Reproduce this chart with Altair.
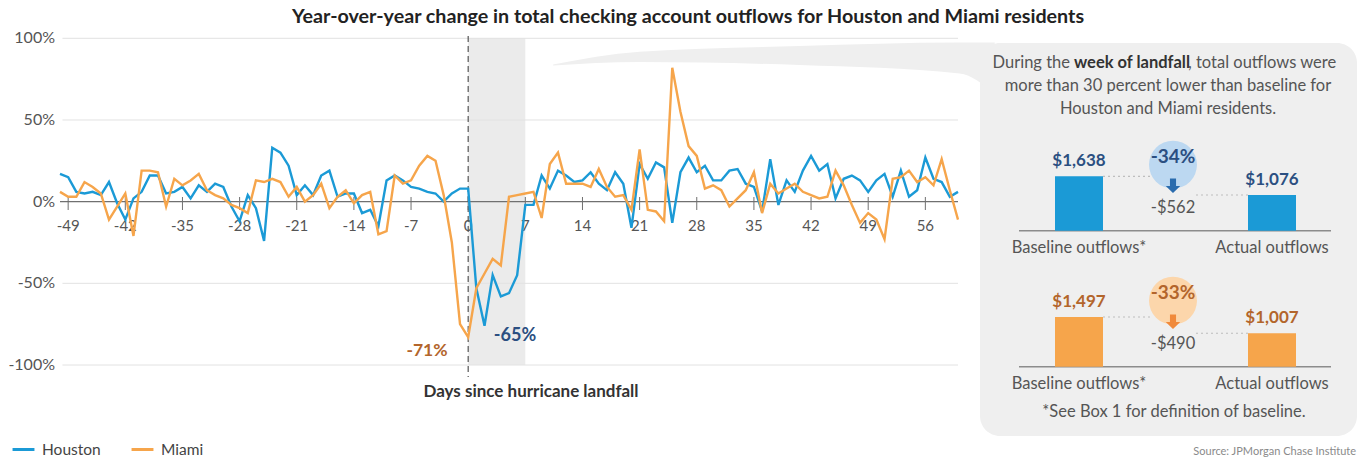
import altair as alt
import pandas as pd

FONT = "Lato"

TITLE = "Year-over-year change in total checking account outflows for Houston and Miami residents"
X_TITLE = "Days since hurricane landfall"
SOURCE = "Source: JPMorgan Chase Institute"

CITIES = ["Houston", "Miami"]
DAYS = list(range(-50, 61))

# Year-over-year change in daily outflows (%), days -50 .. 60
HOUSTON = [
    17, 15, 6, 5, 6, 4, 12, -1, -11, 2,
    6, 16, 16, 5, 6, 9, 2, 10, 6, 11,
    9, -3, -12, 4, -4, -24, 33, 30, 22, 4,
    10, 4, 16, 19, 3, 5, 5, -7, -5, -15,
    13, 16, 13, 9, 8, 6, 5, 0, 5, 8,
    8, -53, -76, -45, -58, -56, -45, -2, -2, 16,
    8, 19, 16, 12, 13, 18, 11, 7, 18, 11,
    -16, 23, 14, 24, 21, -13, 18, 27, 18, 22,
    13, 13, 19, 20, 11, 9, -6, 26, -2, 13,
    6, 19, 28, 19, 23, 2, 14, 16, 13, 6,
    13, 17, 3, 19, 3, 7, 27, 14, 12, 3,
    6,
]
MIAMI = [
    6, 3, 3, 12, 9, 5, -11, -3, 5, -21,
    19, 19, 18, -3, 14, 10, 13, 17, 7, 4,
    2, -2, -4, -7, 13, 12, 14, 12, 3, 9,
    0, 4, 11, -4, 3, 7, -1, 4, 6, -20,
    -18, 16, 11, 13, 22, 28, 25, 4, -25, -75,
    -83, -53, -44, -35, -39, 3, 4, 5, 6, -10,
    23, 30, 11, 11, 11, 9, 20, 9, 3, 4,
    -5, 32, -5, -6, -12, 82, 55, 34, 28, 8,
    10, 7, -3, 2, 7, 18, -7, 11, 5, 8,
    11, 6, 4, 2, 3, 19, 10, -2, -13, -7,
    -11, -23, 14, 15, 19, 12, 15, 10, 26, 7,
    -11,
]

X_TICKS = list(range(-49, 57, 7))
Y_TICKS = [-100, -50, 0, 50, 100]
LANDFALL_WEEK = [0, 7]
DIP_LABELS = {"Houston": "-65%", "Miami": "-71%"}

KINDS = ["Baseline outflows*", "Actual outflows"]
HOUSTON_OUTFLOWS = [1638, 1076]
MIAMI_OUTFLOWS = [1497, 1007]

BLUE = "#1b9ad6"
ORANGE = "#f6a54b"
DARK_BLUE = "#2b4f81"
BROWN = "#b3652b"
GRAY_TEXT = "#555555"
PANEL = "#efefef"

W, H = 1364, 466
PANEL_FONT_SIZE = 16.5

FX = alt.Scale(domain=[-50, 60], range=[60, 958])
FY = alt.Scale(domain=[-100, 100], range=[365, 38.3])
one = pd.DataFrame({"k": [0]})


def txt(text, x, y, size=15, color=GRAY_TEXT, weight="normal", align="center"):
    return alt.Chart(one).mark_text(
        text=text, font=FONT, fontSize=size, color=color, fontWeight=weight,
        align=align, baseline="middle",
    ).encode(x=alt.value(x), y=alt.value(y))


# ---------------- line chart ----------------
series = pd.DataFrame({
    "day": DAYS * 2,
    "city": ["Houston"] * len(DAYS) + ["Miami"] * len(DAYS),
    "change": HOUSTON + MIAMI,
})

panel_bg = alt.Chart(one).mark_rect(color=PANEL, cornerRadius=20).encode(
    x=alt.value(980), x2=alt.value(1357), y=alt.value(43), y2=alt.value(436)
)

# callout tail linking the landfall week to the side panel
tail = pd.DataFrame({
    "day": [10.4, 21.0, 40.6, 60.2, 64.5],
    "top": [84.0, 91.7, 95.3, 97.4, 97.4],
    "bottom": [83.4, 85.5, 83.6, 78.5, 66.0],
})
tail_area = alt.Chart(tail).mark_area(color=PANEL, clip=False, interpolate="monotone").encode(
    x=alt.X("day:Q", scale=FX, axis=None),
    y=alt.Y("top:Q", scale=FY, axis=None),
    y2="bottom:Q",
)

shade = alt.Chart(pd.DataFrame({"start": [LANDFALL_WEEK[0]], "end": [LANDFALL_WEEK[1]]})).mark_rect(
    color="#ebebeb"
).encode(
    x=alt.X("start:Q", scale=FX, axis=None), x2="end:Q",
    y=alt.Y(datum=-100, scale=FY, axis=None), y2=alt.datum(100),
)

grid = alt.Chart(pd.DataFrame({"v": [v for v in Y_TICKS if v != 0]})).mark_rule(
    color="#e2e2e2", strokeWidth=1
).encode(
    y=alt.Y("v:Q", scale=FY, axis=None),
    x=alt.X(datum=-49.7, scale=FX, axis=None), x2=alt.datum(60),
)

zero_line = alt.Chart(one).mark_rule(color="#707070", strokeWidth=1.3).encode(
    y=alt.Y(datum=0, scale=FY, axis=None),
    x=alt.X(datum=-50, scale=FX, axis=None), x2=alt.datum(60),
)

tick_df = pd.DataFrame({"t": X_TICKS, "lab": [str(t) for t in X_TICKS]})
ticks = alt.Chart(tick_df).mark_rule(color="#707070", strokeWidth=1).encode(
    x=alt.X("t:Q", scale=FX, axis=None), y=alt.value(197), y2=alt.value(210)
)
tick_labels = alt.Chart(tick_df).mark_text(
    font=FONT, fontSize=15, color=GRAY_TEXT, baseline="middle"
).encode(x=alt.X("t:Q", scale=FX, axis=None), y=alt.value(226), text="lab:N")

ylab_df = pd.DataFrame({"v": Y_TICKS, "lab": [f"{v}%" for v in Y_TICKS]})
y_labels = alt.Chart(ylab_df).mark_text(
    font=FONT, fontSize=16, color=GRAY_TEXT, align="right", baseline="middle"
).encode(x=alt.value(55), y=alt.Y("v:Q", scale=FY, axis=None), text="lab:N")

landfall_rule = alt.Chart(one).mark_rule(color="#555555", strokeDash=[6, 4], strokeWidth=1.2).encode(
    x=alt.X(datum=LANDFALL_WEEK[0], scale=FX, axis=None), y=alt.value(36), y2=alt.value(377)
)

lines = alt.Chart(series).mark_line(strokeWidth=2.4).encode(
    x=alt.X("day:Q", scale=FX, axis=None),
    y=alt.Y("change:Q", scale=FY, axis=None),
    color=alt.Color(
        "city:N",
        scale=alt.Scale(domain=CITIES, range=[BLUE, ORANGE]),
        legend=alt.Legend(
            orient="none", legendX=11, legendY=437, direction="horizontal", title=None,
            symbolType="stroke", symbolStrokeWidth=3, symbolSize=480,
            labelFont=FONT, labelFontSize=15.5, labelColor="#444444",
            columnPadding=24, labelOffset=6, padding=0,
        ),
    ),
    order=alt.Order("day:Q"),
)

main = alt.layer(
    panel_bg, tail_area, shade, grid, zero_line, ticks, tick_labels, y_labels,
    landfall_rule, lines,
    txt(DIP_LABELS["Miami"], 427, 351, size=17.5, color=BROWN, weight="bold"),
    txt(DIP_LABELS["Houston"], 515, 336, size=18, color=DARK_BLUE, weight="bold"),
    txt(X_TITLE, 531, 392, size=17, color="#333333", weight="bold"),
    txt(TITLE, 688, 17, size=19.7, color="#222222", weight="bold"),
    txt(SOURCE, 1356, 452, size=11, color="#8a8a8a", align="right"),
    # side panel paragraph
    txt("During the", 1070, 63, size=PANEL_FONT_SIZE, align="right"),
    txt("week of landfall", 1074, 63, size=PANEL_FONT_SIZE, color="#333333", weight="bold", align="left"),
    txt(", total outflows were", 1188, 63, size=PANEL_FONT_SIZE, align="left"),
    txt("more than 30 percent lower than baseline for", 1168, 86, size=PANEL_FONT_SIZE),
    txt("Houston and Miami residents.", 1168, 109, size=PANEL_FONT_SIZE),
    txt("*See Box 1 for definition of baseline.", 1174, 412, size=PANEL_FONT_SIZE),
)


# ---------------- side panel: baseline vs actual outflows ----------------
PX_PER_DOLLAR = 0.0332


def outflow_panel(amounts, zero_px, bar_color, text_color, circle_color, arrow_color):
    base_amt, actual_amt = amounts
    diff = actual_amt - base_amt
    pct = round(diff / base_amt * 100)
    df = pd.DataFrame({
        "kind": KINDS,
        "amount": amounts,
        "label": [f"${a:,}" for a in amounts],
    })
    sx = alt.Scale(type="point", domain=KINDS, range=[1079, 1272], padding=0)
    sy = alt.Scale(domain=[0, 2000], range=[zero_px, zero_px - 2000 * PX_PER_DOLLAR])
    xenc = alt.X("kind:N", scale=sx, axis=None)
    yenc = alt.Y("amount:Q", scale=sy, axis=None)

    base = alt.Chart(df)
    bars = base.mark_bar(size=48, color=bar_color).encode(x=xenc, y=yenc)
    values = base.mark_text(
        font=FONT, fontSize=17, fontWeight="bold", color=text_color, baseline="alphabetic", dy=-10
    ).encode(x=xenc, y=yenc, text="label:N")
    cats = base.mark_text(font=FONT, fontSize=PANEL_FONT_SIZE, color=GRAY_TEXT, baseline="middle").encode(
        x=xenc, y=alt.value(zero_px + 17), text="kind:N"
    )
    axis_line = alt.Chart(one).mark_rule(color="#8c8c8c", strokeWidth=1.5).encode(
        y=alt.Y(datum=0, scale=sy, axis=None), x=alt.value(1019), x2=alt.value(1331)
    )
    dot_base = alt.Chart(one).mark_rule(color="#bdbdbd", strokeDash=[2, 3], strokeWidth=1.2).encode(
        y=alt.Y(datum=base_amt, scale=sy, axis=None), x=alt.value(1103), x2=alt.value(1150)
    )
    dot_actual = alt.Chart(one).mark_rule(color="#bdbdbd", strokeDash=[2, 3], strokeWidth=1.2).encode(
        y=alt.Y(datum=actual_amt, scale=sy, axis=None), x=alt.value(1196), x2=alt.value(1248)
    )
    circle = alt.Chart(one).mark_circle(color=circle_color, opacity=1, size=2300).encode(
        x=alt.value(1173), y=alt.value(zero_px - 66)
    )
    arrow = alt.Chart(one).mark_point(
        shape="M -0.42 -1 L 0.42 -1 L 0.42 0.05 L 1 0.05 L 0 1 L -1 0.05 L -0.42 0.05 Z",
        filled=True, color=arrow_color, opacity=1, size=210, strokeWidth=0,
    ).encode(x=alt.value(1173), y=alt.value(zero_px - 45))
    return alt.layer(
        axis_line, dot_base, dot_actual, bars, values, cats, circle, arrow,
        txt(f"{pct}%", 1173, zero_px - 74, size=19, color=text_color, weight="bold"),
        txt(f"-${abs(diff):,}", 1173, zero_px - 23, size=PANEL_FONT_SIZE),
    )


houston_panel = outflow_panel(HOUSTON_OUTFLOWS, 230.7, BLUE, DARK_BLUE, "#bcd8f1", "#2a6cae")
miami_panel = outflow_panel(MIAMI_OUTFLOWS, 366.7, ORANGE, BROWN, "#fcd6ab", "#f08a3c")

chart = alt.layer(main, houston_panel, miami_panel).resolve_scale(
    x="independent", y="independent"
).properties(
    width=W, height=H, padding=0, autosize=alt.AutoSizeParams(type="none"), background="white"
).configure_view(stroke=None)

chart.save("out.html", embed_options={"renderer": "svg", "actions": False})
